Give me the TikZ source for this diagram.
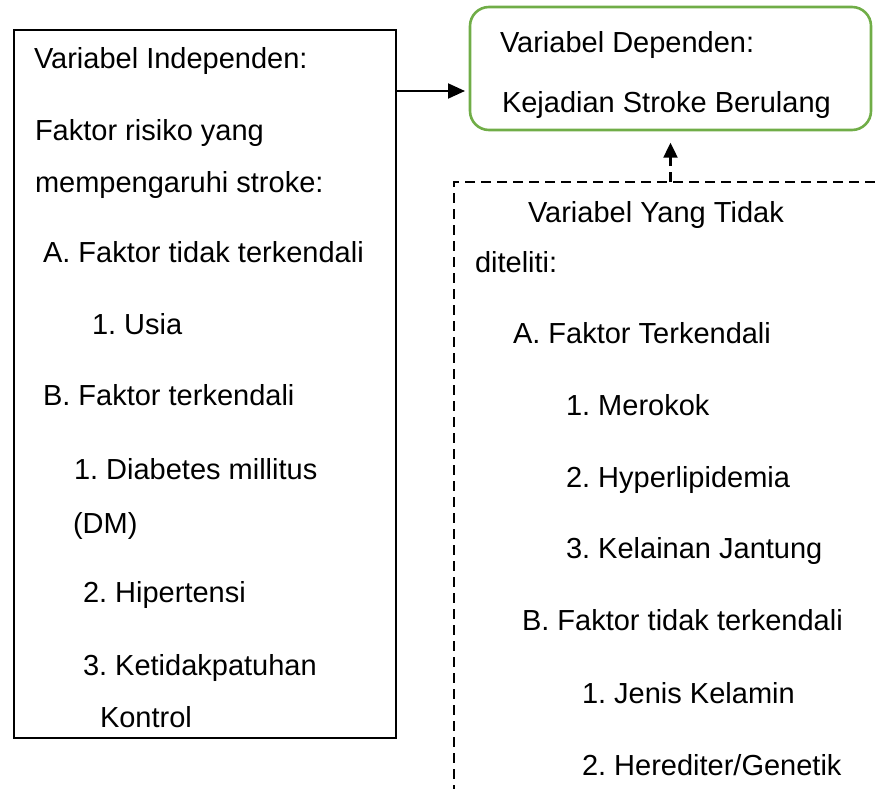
\documentclass[tikz,border=0pt]{standalone}
\usepackage{fontspec}
\setmainfont{Liberation Sans}
\usetikzlibrary{arrows.meta}
\definecolor{boxgreen}{HTML}{70AD47}
\frenchspacing
\tikzset{
  txt/.style={anchor=base west, inner sep=0pt, outer sep=0pt, font=\fontsize{29}{35}\selectfont},
  solidbox/.style={draw=black, line width=2, inner sep=0pt, outer sep=0pt, anchor=north west},
  greenbox/.style={draw=boxgreen, line width=2.6, rounded corners=19, inner sep=0pt, outer sep=0pt, anchor=north west},
  dashline/.style={draw=black, line width=2.2, dash pattern=on 10pt off 6pt},
  solidarrow/.style={draw=black, line width=2, -{Triangle[length=17pt,width=15pt]}},
  dasharrow/.style={draw=black, line width=2.2, dash pattern=on 10pt off 6pt, -{Triangle[length=15pt,width=14pt]}}
}
\begin{document}
\begin{tikzpicture}[x=1pt,y=-1pt]
\useasboundingbox (0,0) rectangle (875,789);
% boxes
\node (lbox) [solidbox, minimum width=382, minimum height=708] at (14,30) {};
\node (gbox) [greenbox, minimum width=401, minimum height=123] at (470,7) {};
\coordinate (dtr) at (875,182);
\coordinate (dtl) at (454,182);
\coordinate (dbl) at (454,789);
\draw[dashline] (dtr) -- (dtl) -- (dbl);
% connectors
\coordinate (arrowy) at (0,91);
\draw[solidarrow, shorten >=5] (lbox.east |- arrowy) -- (gbox.west |- arrowy);
\draw[dasharrow, shorten >=12.7] (gbox.south |- dtl) -- (gbox.south);
% left texts
\node (l1) [txt] at (34,69) {Variabel Independen:};
\node (l2) [txt] at (35,141) {Faktor risiko yang};
\node (l3) [txt] at (35,192) {mempengaruhi stroke:};
\node (l4) [txt] at (43,262) {A. Faktor tidak terkendali};
\node (l5) [txt] at (92,334) {1. Usia};
\node (l6) [txt] at (43,405) {B. Faktor terkendali};
\node (l7) [txt] at (74,479) {1. Diabetes millitus};
\node (l8) [txt] at (73,533) {(DM)};
\node (l9) [txt] at (83,602) {2. Hipertensi};
\node (l10) [txt] at (83,675) {3. Ketidakpatuhan};
\node (l11) [txt] at (100,727) {Kontrol};
% green texts
\node (g1) [txt] at (500,53) {Variabel Dependen:};
\node (g2) [txt] at (502,113) {Kejadian Stroke Berulang};
% right texts
\node (r1) [txt] at (528,222) {Variabel Yang Tidak};
\node (r2) [txt] at (475,272) {diteliti:};
\node (r3) [txt] at (513,343) {A. Faktor Terkendali};
\node (r4) [txt] at (566,415) {1. Merokok};
\node (r5) [txt] at (566,487) {2. Hyperlipidemia};
\node (r6) [txt] at (566,558) {3. Kelainan Jantung};
\node (r7) [txt] at (522,630) {B. Faktor tidak terkendali};
\node (r8) [txt] at (582,703) {1. Jenis Kelamin};
\node (r9) [txt] at (582,775) {2. Herediter/Genetik};
\end{tikzpicture}
\end{document}
